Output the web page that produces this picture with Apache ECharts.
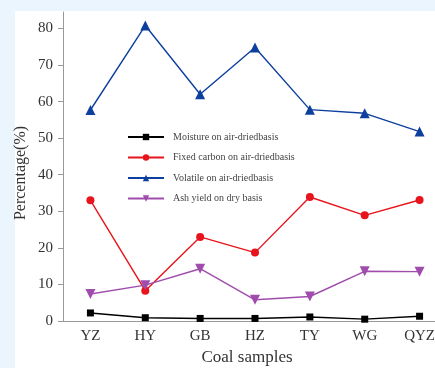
<!DOCTYPE html>
<html><head><meta charset="utf-8">
<script src="https://cdn.jsdelivr.net/npm/echarts@6/dist/echarts.min.js"></script>
<style>
html,body{margin:0;padding:0;background:#eaf5fd;}
#wrap{position:relative;width:435px;height:368px;background:#eaf5fd;overflow:hidden;}
#panel{position:absolute;left:15px;top:11px;right:0;bottom:0;background:#fff;}
#chart{position:absolute;left:0;top:0;width:450px;height:368px;}
</style></head>
<body>
<div id="wrap"><div id="panel"></div><div id="chart"></div></div>
<script>
const categories = ['YZ','HY','GB','HZ','TY','WG','QYZ'];
const moisture = [2.2, 0.9, 0.7, 0.7, 1.1, 0.5, 1.3];
const fixedCarbon = [33.0, 8.3, 23.0, 18.7, 33.9, 28.9, 33.1];
const volatile = [57.7, 80.8, 62.0, 74.8, 57.8, 56.8, 51.8];
const ashYield = [7.4, 9.8, 14.3, 5.8, 6.7, 13.6, 13.5];
const yTicks = [0,10,20,30,40,50,60,70,80];

const serif = '"Liberation Serif","DejaVu Serif",serif';
const chart = echarts.init(document.getElementById('chart'), null, {renderer:'canvas'});
function line(name, data, color, symbol, size, rotate){
  return {name, type:'line', data, symbol, symbolSize:size, symbolRotate:rotate||0,
    lineStyle:{color, width:1.4}, itemStyle:{color}, color};
}
chart.setOption({
  animation:false,
  grid:{left:63, top:12, bottom:47, width:384},
  legend:{orient:'vertical', left:127, top:132, padding:0, itemWidth:36, itemHeight:8, itemGap:10.5,
    textStyle:{fontFamily:serif, fontSize:10, color:'#444', padding:[0,0,0,4]},
    data:['Moisture on air-driedbasis','Fixed carbon on air-driedbasis','Volatile on air-driedbasis','Ash yield on dry basis']},
  xAxis:{type:'category', data:categories, boundaryGap:true,
    axisLine:{lineStyle:{color:'#999', width:1}},
    axisTick:{alignWithLabel:true, length:5, lineStyle:{color:'#999'}},
    axisLabel:{fontFamily:serif, fontSize:15, color:'#333', margin:8}},
  yAxis:{type:'value', min:0, max:84.5, interval:10,
    axisLine:{show:true, lineStyle:{color:'#999', width:1}},
    axisTick:{show:true, length:5, lineStyle:{color:'#999'}},
    splitLine:{show:false},
    axisLabel:{fontFamily:serif, fontSize:15, color:'#333', margin:10, showMaxLabel:false,
      formatter:v => yTicks.includes(v) ? String(v) : ''}},
  graphic:[
    {type:'text', rotation:Math.PI/2, x:21, y:173, style:{text:'Percentage(%)', font:'16px '+serif, fill:'#333', textAlign:'center', textVerticalAlign:'middle'}},
    {type:'text', x:247, y:358, style:{text:'Coal samples', font:'17px '+serif, fill:'#333', textAlign:'center', textVerticalAlign:'middle'}}
  ],
  series:[
    line('Moisture on air-driedbasis', moisture, '#000000', 'rect', 7),
    line('Fixed carbon on air-driedbasis', fixedCarbon, '#e8141b', 'circle', 8),
    line('Volatile on air-driedbasis', volatile, '#0d3f9e', 'triangle', 10),
    line('Ash yield on dry basis', ashYield, '#a04cad', 'triangle', 10, 180)
  ]
});
</script></body></html>
